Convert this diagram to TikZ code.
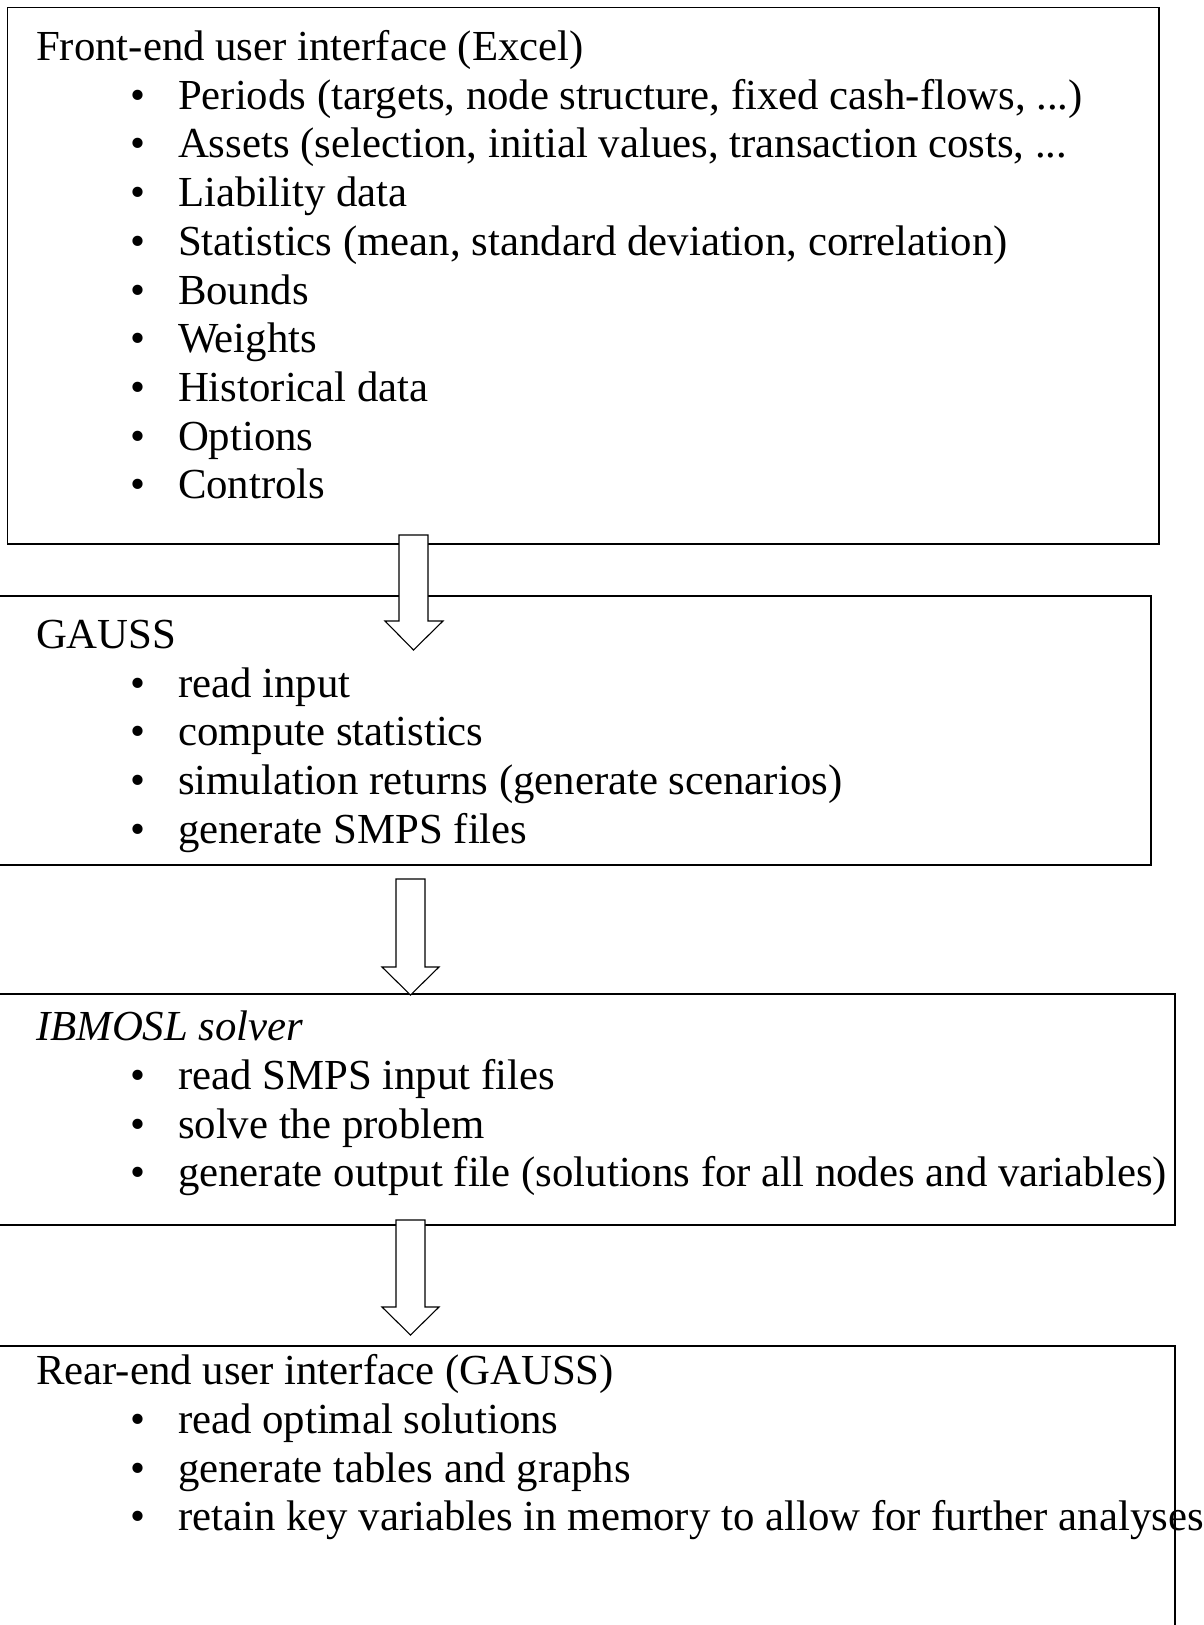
\documentclass[tikz,border=0pt]{standalone}
\usepackage{fontspec}
\setmainfont{Liberation Serif}
\begin{document}
\begin{tikzpicture}[x=1pt,y=-1pt,
  boxframe/.style={draw=black,line width=1.4pt},
  txt/.style={anchor=base west,inner sep=0pt,outer sep=0pt,font=\fontsize{42.8}{48}\selectfont},
  bul/.style={anchor=base,inner sep=0pt,outer sep=0pt,font=\fontsize{42.8}{48}\selectfont},
  blockarrow/.style={draw=black,fill=white,line width=1.1pt,line join=miter}]
\useasboundingbox (0,0) rectangle (1204,1625);
% boxes
\draw[boxframe] (7.5,7.5) rectangle (1159,544);
\draw[boxframe] (-5,596) rectangle (1151,865);
\draw[boxframe] (-5,994) rectangle (1175,1225);
\draw[boxframe] (-5,1346) rectangle (1175,1640);
% box 1 text
\node[txt] (t1) at (36,60) {Front-end user interface (Excel)};
\foreach \y/\s [count=\i] in {109/{Periods (targets, node structure, fixed cash-flows, ...)},
  157/{Assets (selection, initial values, transaction costs, ...},
  206/{Liability data},
  255/{Statistics (mean, standard deviation, correlation)},
  304/{Bounds},
  352/{Weights},
  401/{Historical data},
  450/{Options},
  498/{Controls}}{
  \node[bul] (ba\i) at (138,\y) {•};
  \node[txt] (ia\i) at (178,\y) {\s};
}
% box 2 text
\node[txt] (t2) at (36,648) {GAUSS};
\foreach \y/\s [count=\i] in {697/{read input},
  745/{compute statistics},
  794/{simulation returns (generate scenarios)},
  843/{generate SMPS files}}{
  \node[bul] (bb\i) at (138,\y) {•};
  \node[txt] (ib\i) at (178,\y) {\s};
}
% box 3 text
\node[txt] (t3) at (36,1040) {\itshape IBMOSL solver};
\foreach \y/\s [count=\i] in {1089/{read SMPS input files},
  1138/{solve the problem},
  1186/{generate output file (solutions for all nodes and variables)}}{
  \node[bul] (bc\i) at (138,\y) {•};
  \node[txt] (ic\i) at (178,\y) {\s};
}
% box 4 text
\node[txt] (t4) at (36,1384) {Rear-end user interface (GAUSS)};
\foreach \y/\s [count=\i] in {1433/{read optimal solutions},
  1482/{generate tables and graphs},
  1530/{retain key variables in memory to allow for further analyses}}{
  \node[bul] (bd\i) at (138,\y) {•};
  \node[txt] (id\i) at (178,\y) {\s};
}
% block arrows
\draw[blockarrow] (399,535) -- (428,535) -- (428,621) -- (443,621) -- (413.5,650) -- (385,621) -- (399,621) -- cycle;
\draw[blockarrow] (396,879) -- (425,879) -- (425,967) -- (439,967) -- (410.5,995) -- (382,967) -- (396,967) -- cycle;
\draw[blockarrow] (396,1220) -- (425,1220) -- (425,1307) -- (439,1307) -- (410.5,1335) -- (382,1307) -- (396,1307) -- cycle;
\end{tikzpicture}
\end{document}
